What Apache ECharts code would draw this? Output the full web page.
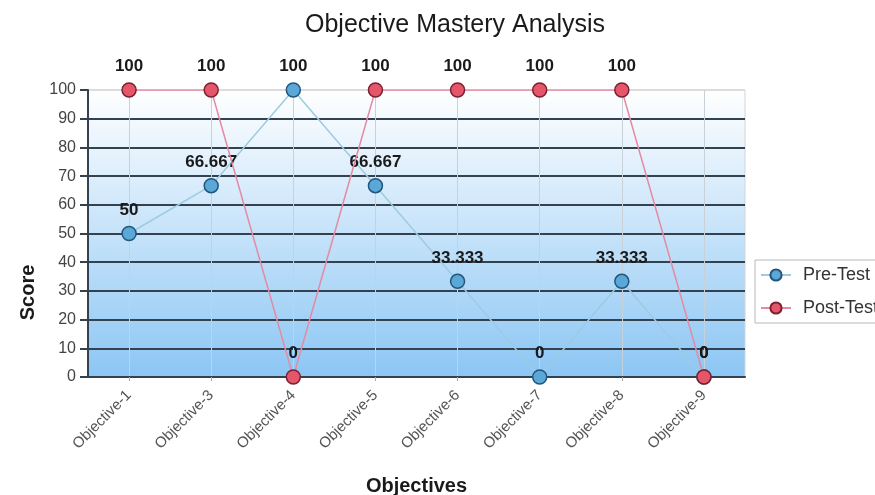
<!DOCTYPE html>
<html><head><meta charset="utf-8">
<script src="https://cdn.jsdelivr.net/npm/echarts@6/dist/echarts.min.js"></script>
<style>html,body{margin:0;padding:0;background:#fff}#c{width:875px;height:495px}</style>
</head><body><div id="c"></div>
<script>
const categories = ['Objective-1','Objective-3','Objective-4','Objective-5','Objective-6','Objective-7','Objective-8','Objective-9'];
const preTest = [50, 66.667, 100, 66.667, 33.333, 0, 33.333, 0];
const postTest = [100, 100, 0, 100, 100, 100, 100, 0];
const yTicks = [0,10,20,30,40,50,60,70,80,90,100];

const chart = echarts.init(document.getElementById('c'));
const F = 'Liberation Sans, Arial, sans-serif';
const gridColors = yTicks.map(v => v === 100 ? '#dcdcdc' : '#34414e');
const lbl = {show:true, position:'top', distance:7, fontFamily:F, fontSize:17, fontWeight:'bold', color:'#1a1a1a'};
chart.setOption({
  animation:false,
  title:{text:'Objective Mastery Analysis', left:300, top:8, textStyle:{fontFamily:F, fontSize:25, fontWeight:'normal', color:'#1a1a1a'}},
  legend:{orient:'vertical', left:755, top:260, padding:[6,8,6,5], itemGap:15, itemWidth:30, itemHeight:14,
    borderColor:'#b8b8b8', borderWidth:1, backgroundColor:'#fff',
    textStyle:{fontFamily:F, fontSize:18, color:'#333', lineHeight:14, padding:[0,0,0,7]}, data:['Pre-Test','Post-Test']},
  grid:{left:88, right:130, top:90, bottom:118, show:true, borderWidth:1, borderColor:'#d4d4d4', outerBoundsMode:'none', containLabel:false,
    backgroundColor:new echarts.graphic.LinearGradient(0,0,0,1,[{offset:0,color:'#ffffff'},{offset:1,color:'#8cc6f4'}])},
  xAxis:{type:'category', data:categories, boundaryGap:true,
    name:'Objectives', nameLocation:'middle', nameGap:99, nameTextStyle:{fontFamily:F, fontSize:20, fontWeight:'bold', color:'#1a1a1a'},
    axisLine:{lineStyle:{color:'#34414e', width:2}},
    axisTick:{show:true, alignWithLabel:true, length:4, lineStyle:{color:'#aaa'}},
    axisLabel:{rotate:45, fontFamily:F, fontSize:15, color:'#555', margin:16},
    splitLine:{show:true, alignWithLabel:true, lineStyle:{color:'#c8d0d8', width:1}}},
  yAxis:{type:'value', min:0, max:100, interval:10,
    name:'Score', nameLocation:'middle', nameGap:50, nameTextStyle:{fontFamily:F, fontSize:20, fontWeight:'bold', color:'#1a1a1a', padding:[0,118,0,0]},
    axisLine:{show:true, lineStyle:{color:'#34414e', width:2}},
    axisTick:{show:true, length:8, lineStyle:{color:'#34414e', width:2}},
    axisLabel:{fontFamily:F, fontSize:16, color:'#444', margin:12},
    splitLine:{show:true, lineStyle:{color:gridColors, width:2}}},
  series:[
    {name:'Pre-Test', type:'line', data:preTest, symbol:'circle', symbolSize:14,
      itemStyle:{color:'#5aa8d8', borderColor:'#24557c', borderWidth:1.5},
      lineStyle:{color:'#9ccbe2', width:1.5}, label:lbl, z:3},
    {name:'Post-Test', type:'line', data:postTest, symbol:'circle', symbolSize:14,
      itemStyle:{color:'#e6566a', borderColor:'#7a2030', borderWidth:1.5},
      lineStyle:{color:'#e58aa2', width:1.5}, label:lbl, z:4}
  ]
});
</script></body></html>
